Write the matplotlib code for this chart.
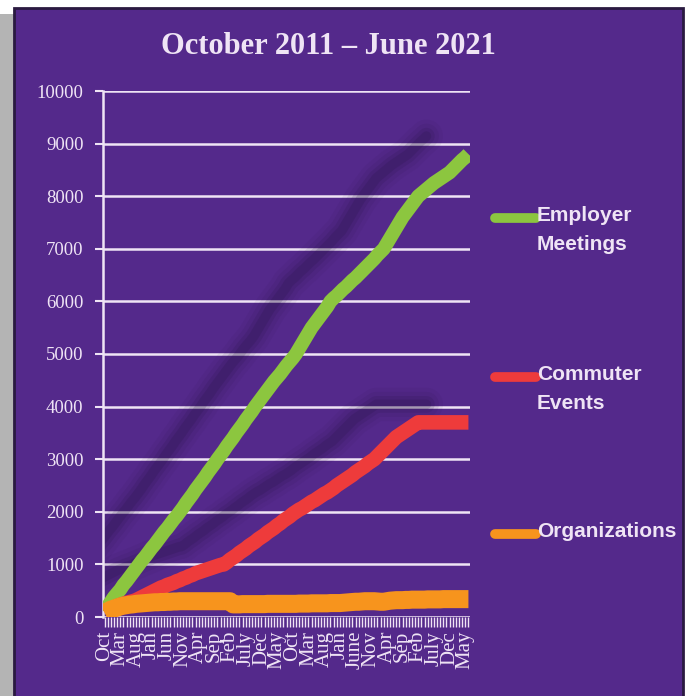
import matplotlib
matplotlib.use("Agg")
import matplotlib.pyplot as plt
import matplotlib.transforms as mtransforms
from matplotlib.patches import Rectangle

title = "October 2011 \u2013 June 2021"
tick_labels = ["Oct", "Mar", "Aug", "Jan", "Jun", "Nov", "Apr", "Sep", "Feb", "July", "Dec", "May",
               "Oct", "Mar", "Aug", "Jan", "June", "Nov", "Apr", "Sep", "Feb", "July", "Dec", "May"]
label_every = 5  # one label every five months, Oct 2011 .. May 2021

employer = [100, 200, 290, 380, 450, 520, 610, 680, 760, 840, 920, 1000,
            1080, 1150, 1230, 1310, 1380, 1460, 1540, 1620, 1690, 1770, 1850, 1920,
            2000, 2080, 2170, 2250, 2330, 2420, 2500, 2580, 2660, 2750, 2830, 2910,
            3000, 3080, 3160, 3250, 3330, 3410, 3500, 3580, 3660, 3750, 3830, 3910,
            4000, 4080, 4160, 4240, 4320, 4400, 4480, 4550, 4620, 4700, 4780, 4850,
            4920, 5000, 5100, 5200, 5300, 5400, 5500, 5580, 5660, 5740, 5820, 5900,
            6000, 6060, 6110, 6170, 6230, 6280, 6340, 6400, 6450, 6510, 6570, 6630,
            6690, 6750, 6810, 6880, 6940, 7000, 7100, 7200, 7300, 7400, 7500, 7600,
            7680, 7760, 7840, 7920, 8000, 8050, 8100, 8150, 8200, 8250, 8290, 8330,
            8370, 8410, 8450, 8510, 8570, 8630, 8690, 8740, 8800]

commuter = [100, 130, 160, 180, 210, 230, 250, 270, 285, 300, 320, 350,
            380, 410, 440, 470, 500, 530, 560, 580, 610, 630, 650, 680,
            700, 730, 750, 780, 800, 830, 850, 870, 890, 910, 930, 950,
            970, 990, 1000, 1040, 1090, 1130, 1170, 1220, 1260, 1300, 1350, 1390,
            1430, 1480, 1520, 1560, 1610, 1650, 1690, 1740, 1780, 1830, 1870, 1910,
            1960, 2000, 2040, 2070, 2110, 2150, 2190, 2220, 2260, 2300, 2340, 2370,
            2410, 2450, 2500, 2540, 2580, 2620, 2660, 2700, 2750, 2790, 2830, 2870,
            2920, 2960, 3000, 3060, 3120, 3180, 3240, 3300, 3360, 3420, 3460, 3500,
            3540, 3580, 3620, 3660, 3700, 3700, 3700, 3700, 3700, 3700, 3700, 3700,
            3700, 3700, 3700, 3700, 3700, 3700, 3700, 3700, 3700]

organizations = [80, 110, 140, 160, 180, 200, 215, 225, 235, 240, 250, 255,
                 260, 265, 270, 275, 280, 280, 285, 285, 290, 290, 295, 295,
                 300, 300, 300, 300, 300, 300, 300, 300, 300, 300, 300, 300,
                 300, 300, 300, 300, 300, 240, 240, 240, 245, 245, 245, 245,
                 245, 245, 245, 245, 250, 250, 250, 250, 250, 250, 250, 250,
                 250, 250, 255, 255, 255, 255, 260, 260, 260, 260, 260, 260,
                 265, 265, 265, 265, 270, 275, 280, 285, 290, 290, 295, 300,
                 300, 300, 300, 295, 290, 290, 300, 310, 315, 320, 320, 320,
                 325, 325, 330, 330, 330, 330, 330, 335, 335, 335, 335, 335,
                 340, 340, 340, 340, 340, 340, 340, 340, 340]

series = [("Employer\nMeetings", employer, "#8cc63f", 10),
          ("Commuter\nEvents", commuter, "#ee3b3b", 10.5),
          ("Organizations", organizations, "#f7941d", 13)]

PURPLE = "#54298b"
TEXT = "#efe4f5"

fig = plt.figure(figsize=(6.87, 6.96), dpi=100)
fig.patch.set_facecolor("white")

# panel with a grey shadow strip on the left
fig.patches.append(Rectangle((0, -0.1), 0.5, 1.1 - 14 / 696, transform=fig.transFigure,
                             facecolor="#b4b4b4", edgecolor="none", zorder=0))
fig.patches.append(Rectangle((14 / 687, -0.1), 669 / 687, 1.1 - 8 / 696,
                             transform=fig.transFigure, facecolor=PURPLE,
                             edgecolor="#2a1a40", linewidth=2, zorder=1))

ax = fig.add_axes([103 / 687, 1 - 617 / 696, 367 / 687, 526 / 696])
ax.set_facecolor("none")
ax.set_zorder(2)

x = list(range(len(employer)))
for name, vals, color, lw in series:
    if name != "Organizations":
        for w, a in [(24, 0.05), (18, 0.08), (12, 0.12), (7, 0.15)]:
            tr = mtransforms.offset_copy(ax.transData, fig=fig, x=-42, y=18, units="dots")
            ax.plot(x, vals, color="#1e0f3a", lw=w, alpha=a, transform=tr,
                    solid_capstyle="round", zorder=2)
for name, vals, color, lw in series:
    ax.plot(x, vals, color=color, lw=lw, solid_capstyle="butt", solid_joinstyle="round",
            zorder=3)

ax.set_xlim(-0.5, len(x) - 0.5)
ax.set_ylim(0, 10000)
ax.set_yticks(range(0, 10001, 1000))
ax.yaxis.grid(True, color=TEXT, lw=1.8)
ax.set_axisbelow(True)
for s in ["top", "right", "bottom"]:
    ax.spines[s].set_visible(False)
ax.spines["left"].set_color(TEXT)
ax.spines["left"].set_linewidth(1.8)

ax.set_xticks(x, minor=True)
ax.set_xticks(x[::label_every])
ax.set_xticklabels(tick_labels, rotation=90, family="Liberation Serif", fontsize=15,
                   color=TEXT)
ax.tick_params(axis="x", which="both", length=7, width=1, color=TEXT, pad=3)
ax.tick_params(axis="y", length=6, width=1.5, color=TEXT, labelcolor=TEXT, pad=8)
for lbl in ax.get_yticklabels():
    lbl.set_family("Liberation Serif")
    lbl.set_fontsize(13.5)

fig.text(328 / 687, 1 - 47 / 696, title, ha="center", va="center", color=TEXT,
         family="Liberation Serif", fontweight="bold", fontsize=22)

# legend drawn beside the plot
for (name, vals, color, lw), ytop in zip(series, [218, 377, 534]):
    fig.add_artist(plt.Line2D([495 / 687, 536 / 687], [1 - ytop / 696] * 2,
                              transform=fig.transFigure, color=color, lw=7,
                              solid_capstyle="round", zorder=4))
    fig.text(537 / 687, 1 - (ytop - 12) / 696, name, ha="left", va="top", color=TEXT,
             family="Liberation Sans", fontweight="bold", fontsize=15, linespacing=1.65,
             zorder=5)

fig.savefig("out.png", dpi=100)
